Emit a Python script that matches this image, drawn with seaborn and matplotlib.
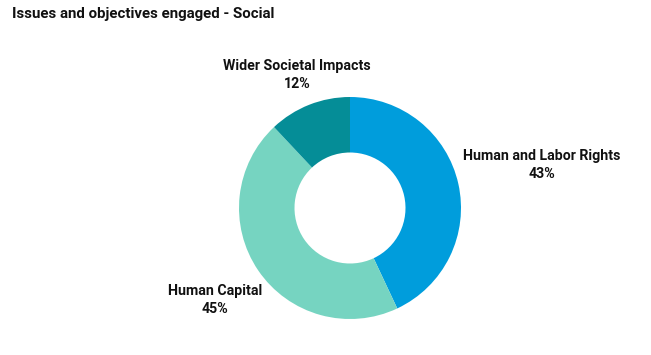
import matplotlib
matplotlib.use("Agg")
import matplotlib.pyplot as plt
import seaborn as sns
import numpy as np

categories = ["Human and Labor Rights", "Human Capital", "Wider Societal Impacts"]
values = [43, 45, 12]
colors = ["#009DDC", "#76D4C1", "#058D97"]
label_dist = [1.77, 1.47, 1.29]

sns.set_theme(style="white")
plt.rcParams['font.family'] = ['Roboto', 'DejaVu Sans']

W, H = 651, 355
fig = plt.figure(figsize=(W/100, H/100), dpi=100)
cx, cy, r = 350, 208, 111
ax = fig.add_axes([(cx - r)/W, (H - cy - r)/H, 2*r/W, 2*r/H])
wedges, _ = ax.pie(values, colors=colors, startangle=90, counterclock=False,
                   radius=1, wedgeprops=dict(width=0.5, linewidth=0))
ax.set_xlim(-1, 1)
ax.set_ylim(-1, 1)
ax.set_aspect('equal')
ax.axis('off')

for w, cat, v, d in zip(wedges, categories, values, label_dist):
    ang = np.deg2rad((w.theta1 + w.theta2) / 2)
    ax.text(d*np.cos(ang), d*np.sin(ang), f"{cat}\n{v}%", ha='center', va='center',
            fontsize=10.2, fontweight='bold', color='#111111', linespacing=1.35,
            clip_on=False)

fig.text(12/W, 1 - 7/H, "Issues and objectives engaged - Social", ha='left', va='top',
         fontsize=10.8, fontweight='bold', color='#111111')

fig.savefig("out.png", dpi=100, facecolor='white')
